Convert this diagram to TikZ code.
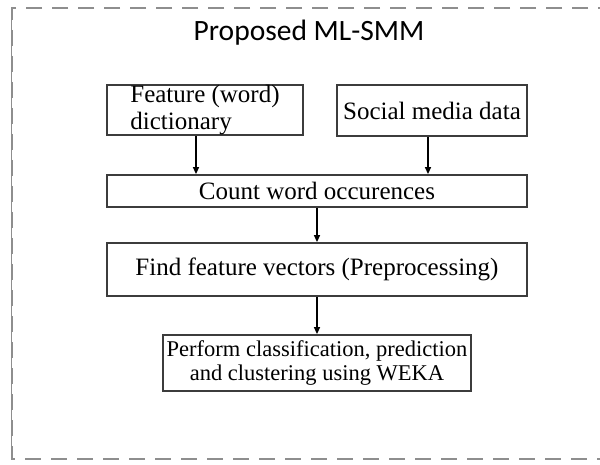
\documentclass[tikz,border=0pt]{standalone}
\usepackage{fontspec}
\setmainfont{Liberation Serif}
\newfontfamily\titlefont{Carlito}
\usetikzlibrary{arrows.meta}
\definecolor{framegray}{HTML}{8E8E8E}
\definecolor{boxline}{HTML}{3C3C3C}
\tikzset{
  stepbox/.style={draw=boxline, line width=1.8pt, inner sep=0pt,
    font=\fontsize{25}{27}\selectfont},
  flow/.style={line width=1.3pt, -{Triangle[length=7pt,width=6pt]}},
  frameline/.style={draw=framegray, line width=2.6pt, dash pattern=on 16pt off 10pt}
}
\begin{document}
\begin{tikzpicture}[x=1pt,y=-1pt]
  \useasboundingbox (0,0) rectangle (600,465);
  % outer dashed frame, its right side runs past the page edge
  \begin{scope}
    \clip (0,0) rectangle (600,465);
    \draw[framegray, line width=0.8pt] (11,8) -- (11,459);
    \draw[frameline] (640,8) -- (12,8) -- (12,459) -- (640,459);
  \end{scope}
  % title
  \node[anchor=base, font=\titlefont\fontsize{29.5}{31}\selectfont] (title) at (309,41) {Proposed ML-SMM};
  % process boxes
  \node[stepbox, minimum width=196pt, minimum height=50pt, align=left] (dict) at (205,110)
        {Feature (word)\\dictionary};
  \node[stepbox, minimum width=190pt, minimum height=51pt] (social) at (432,110.5) {Social media data};
  \node[stepbox, minimum width=420pt, minimum height=32pt] (count) at (317,191) {Count word occurences};
  \node[stepbox, minimum width=420pt, minimum height=53pt] (find) at (317,269.5) {Find feature vectors (Preprocessing)};
  \node[stepbox, minimum width=308pt, minimum height=56pt, align=center,
        font=\fontsize{22.5}{24}\selectfont] (weka) at (317,363)
        {Perform classification, prediction\\ and clustering using WEKA};
  % connectors
  \draw[flow] ([xshift=-9pt]dict.south) -- ([xshift=-9pt]dict.south |- count.north);
  \draw[flow] ([xshift=-4pt]social.south) -- ([xshift=-4pt]social.south |- count.north);
  \draw[flow] (count.south) -- (find.north);
  \draw[flow] (find.south) -- (weka.north);
\end{tikzpicture}
\end{document}
